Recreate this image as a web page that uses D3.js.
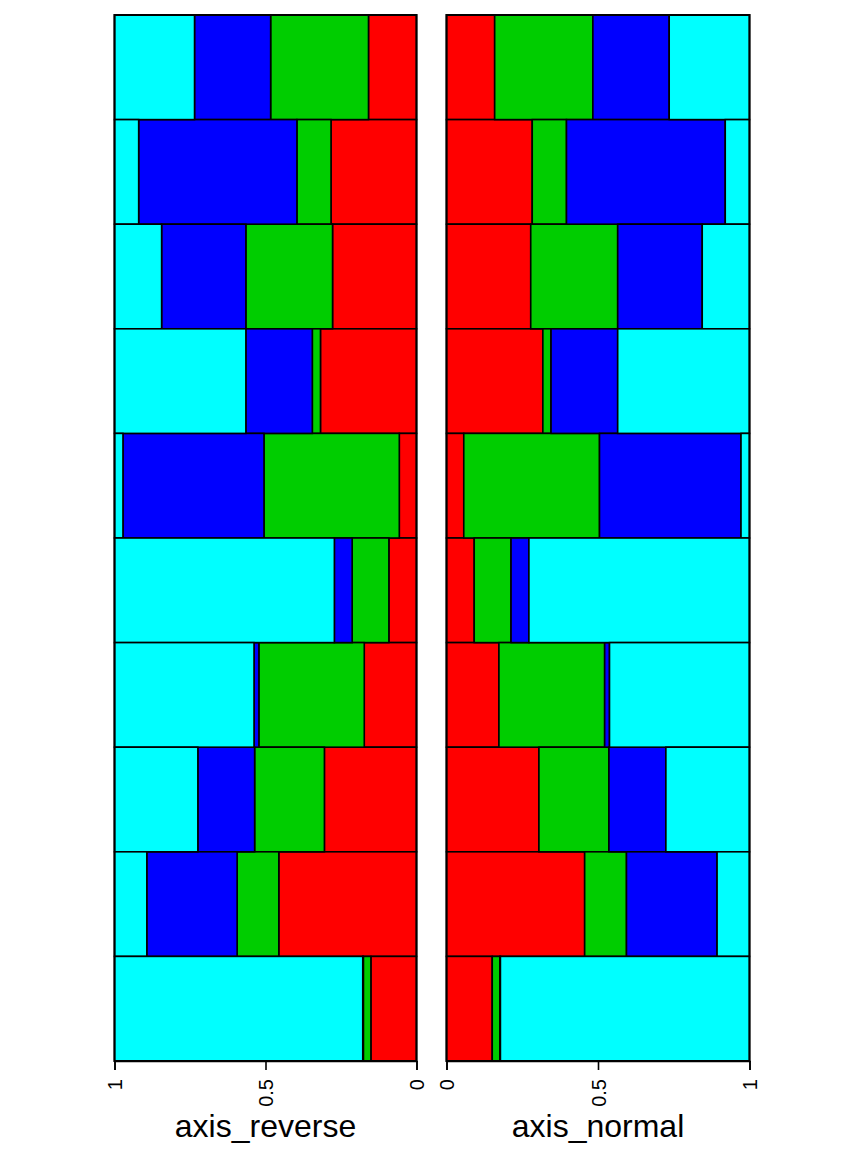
<!DOCTYPE html>
<html><head><meta charset="utf-8">
<script src="https://cdn.jsdelivr.net/npm/d3@7"></script>
<style>body{margin:0;background:#fff}svg{display:block}</style>
</head><body>
<script>
const rows = ["1","2","3","4","5","6","7","8","9","10"];
const seriesNames = ["red","green","blue","cyan"];
const seriesColors = ["#FF0000","#00CD00","#0000FF","#00FFFF"];
const redVals   = [0.159,0.283,0.278,0.318,0.057,0.0915,0.173,0.305,0.456,0.151];
const greenVals = [0.324,0.113,0.287,0.027,0.448,0.1215,0.349,0.231,0.138,0.025];
const blueVals  = [0.252,0.524,0.279,0.220,0.467,0.059,0.016,0.188,0.299,0.002];
const cyanVals  = [0.265,0.080,0.156,0.435,0.028,0.728,0.462,0.276,0.107,0.822];
const tickVals = [0,0.5,1];
const tickLabels = ["0","0.5","1"];
const panelTitles = ["axis_reverse","axis_normal"];

const W=864,H=1152;
const svg=d3.select("body").append("svg").attr("width",W).attr("height",H);
const data = rows.map((r,i)=>({row:r,red:redVals[i],green:greenVals[i],blue:blueVals[i],cyan:cyanVals[i]}));
const stacked = d3.stack().keys(seriesNames)(data);
const y = d3.scaleBand().domain(rows).range([15,1061]).padding(0);
const color = d3.scaleOrdinal().domain(seriesNames).range(seriesColors);

const panels = [
  {x: d3.scaleLinear().domain([1,0]).range([114.5,416.5]), title: panelTitles[0]},
  {x: d3.scaleLinear().domain([0,1]).range([446.5,749.5]), title: panelTitles[1]}
];
const font = "'Liberation Sans', Arial, Helvetica, sans-serif";
panels.forEach(p=>{
  const g = svg.append("g");
  stacked.forEach(s=>{
    g.selectAll(null).data(s).enter().append("rect")
      .attr("x",d=>Math.min(p.x(d[0]),p.x(d[1])))
      .attr("width",d=>Math.abs(p.x(d[1])-p.x(d[0])))
      .attr("y",d=>y(d.data.row))
      .attr("height",y.bandwidth())
      .attr("fill",color(s.key))
      .attr("stroke","#000").attr("stroke-width",1.6);
  });
  const [a,b]=p.x.range();
  g.append("rect").attr("x",Math.min(a,b)).attr("y",15).attr("width",Math.abs(b-a)).attr("height",1046)
    .attr("fill","none").attr("stroke","#000").attr("stroke-width",2);
  const ax = g.append("g").attr("transform","translate(0,1061)")
    .call(d3.axisBottom(p.x).tickValues(tickVals).tickFormat((d,i)=>tickLabels[i]).tickSize(9).tickPadding(4));
  ax.select(".domain").attr("stroke","#000").attr("stroke-width",1.6);
  ax.selectAll(".tick line").attr("stroke","#000").attr("stroke-width",1.6);
  ax.selectAll(".tick text").attr("font-family",font).attr("font-size",20).attr("fill","#000")
    .attr("text-anchor","end").attr("dy","0.35em")
    .attr("transform","translate(0,18) rotate(-90)").attr("x",0).attr("y",0);
  g.append("text").attr("x",(a+b)/2).attr("y",1137).attr("text-anchor","middle")
    .attr("font-family",font).attr("font-size",32).attr("fill","#000").text(p.title);
});
</script>
</body></html>
